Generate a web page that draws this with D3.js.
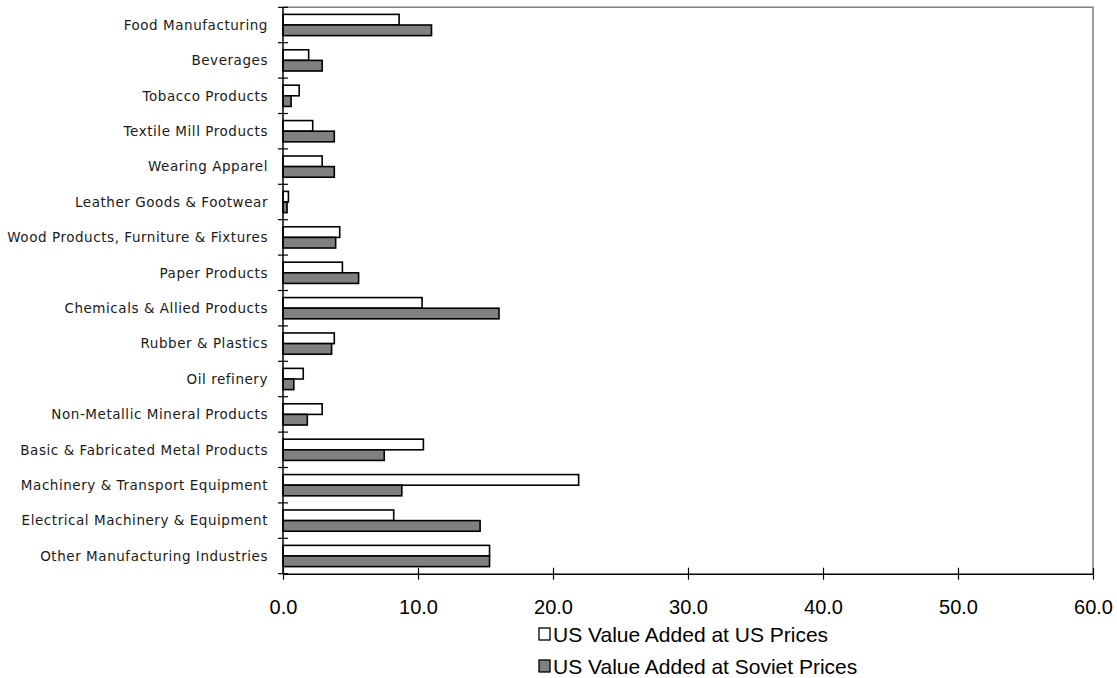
<!DOCTYPE html>
<html><head><meta charset="utf-8">
<script src="https://cdn.jsdelivr.net/npm/d3@7"></script>
<style>body{margin:0;background:#fff}svg{display:block}</style>
</head><body>
<svg id="chart" width="1117" height="678"></svg>
<script>
const categories = [
  "Food Manufacturing","Beverages","Tobacco Products","Textile Mill Products",
  "Wearing Apparel","Leather Goods & Footwear","Wood Products, Furniture & Fixtures",
  "Paper Products","Chemicals & Allied Products","Rubber & Plastics","Oil refinery",
  "Non-Metallic Mineral Products","Basic & Fabricated Metal Products",
  "Machinery & Transport Equipment","Electrical Machinery & Equipment",
  "Other Manufacturing Industries"
];
const usPrices     = [8.6,1.9,1.2,2.2,2.9,0.4,4.2,4.4,10.3,3.8,1.5,2.9,10.4,21.9,8.2,15.3];
const sovietPrices = [11.0,2.9,0.6,3.8,3.8,0.3,3.9,5.6,16.0,3.6,0.8,1.8,7.5,8.8,14.6,15.3];
const seriesNames  = ["US Value Added at US Prices","US Value Added at Soviet Prices"];
const seriesFill   = ["#ffffff","#808080"];
const xTicks = [0,10,20,30,40,50,60];

const svg = d3.select("#chart");
const L=283, R=1093, T=7.3, B=573.7;
const x = d3.scaleLinear().domain([0,60]).range([L,R]);
const y = d3.scaleBand().domain(categories).range([T,B]).paddingInner(0.4).paddingOuter(0.2);
const sub = d3.scaleBand().domain([0,1]).range([0,y.bandwidth()]);

// frame (top/right grey)
svg.append("path").attr("d",`M${L},${T}H${R}V${B}`).attr("fill","none").attr("stroke","#808080").attr("stroke-width",1.5);

const data = categories.map((c,i)=>({c, v:[usPrices[i],sovietPrices[i]]}));
const g = svg.append("g");
data.forEach(d=>{
  d.v.forEach((v,k)=>{
    g.append("rect")
      .attr("x",x(0)).attr("y",y(d.c)+sub(k))
      .attr("width",x(v)-x(0)).attr("height",sub.bandwidth())
      .attr("fill",seriesFill[k]).attr("stroke","#000").attr("stroke-width",1.6);
  });
});

// left axis with crossing ticks at band boundaries
const step = y.step();
const bounds = d3.range(categories.length+1).map(i=>T+i*step);
svg.append("line").attr("x1",L).attr("x2",L).attr("y1",T).attr("y2",B).attr("stroke","#000").attr("stroke-width",1.5);
svg.selectAll(".lt").data(bounds).enter().append("line")
  .attr("x1",L-5).attr("x2",L+5).attr("y1",d=>d).attr("y2",d=>d).attr("stroke","#000").attr("stroke-width",1.2);

// category labels
svg.selectAll(".cl").data(categories).enter().append("text")
  .attr("x",268).attr("y",d=>y(d)+y.bandwidth()/2)
  .attr("dy","0.35em").attr("text-anchor","end")
  .attr("font-family","'DejaVu Sans', sans-serif").attr("font-size",13.5)
  .attr("fill","#1a1a1a").attr("letter-spacing","0.55")
  .text(d=>d);

// bottom axis
const xAxis = d3.axisBottom(x).tickValues(xTicks).tickFormat(d3.format(".1f")).tickSize(0).tickPadding(0);
const ax = svg.append("g").attr("transform",`translate(0,${B})`).call(xAxis);
ax.select(".domain").attr("stroke","#000").attr("stroke-width",1.5);
ax.selectAll(".tick text").attr("y",40).attr("dy",0)
  .attr("font-family","'Liberation Sans', Arial, sans-serif").attr("font-size",20).attr("fill","#000");
ax.selectAll(".tick").append("line").attr("y1",-6).attr("y2",6).attr("stroke","#000").attr("stroke-width",1.2);

// legend
const leg = svg.append("g");
seriesNames.forEach((n,k)=>{
  const cy = 634 + k*32;
  leg.append("rect").attr("x",539).attr("y",cy-6).attr("width",11).attr("height",12)
    .attr("fill",seriesFill[k]).attr("stroke","#000").attr("stroke-width",1.3);
  leg.append("text").attr("x",553).attr("y",cy).attr("dy","0.36em")
    .attr("font-family","'Liberation Sans', Arial, sans-serif").attr("font-size",21).attr("fill","#000")
    .text(n);
});
</script>
</body></html>
